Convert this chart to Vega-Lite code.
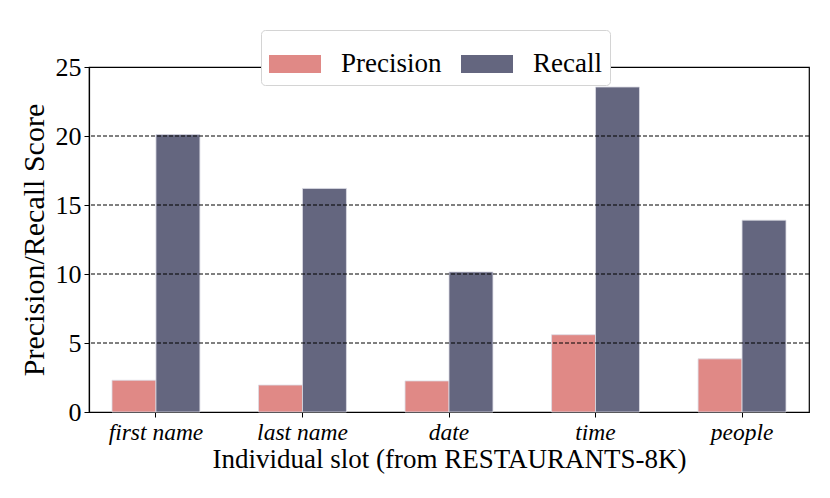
{
  "$schema": "https://vega.github.io/schema/vega-lite/v6.json",
  "description": "Precision / recall per slot, restaurants-8k",
  "width": 720,
  "height": 345,
  "autosize": {"type": "none"},
  "padding": {"left": 89, "top": 67, "right": 22, "bottom": 86},
  "data": {
    "values": [
      {"slot": "first name", "metric": "Precision", "score": 2.3},
      {"slot": "first name", "metric": "Recall", "score": 20.1},
      {"slot": "last name", "metric": "Precision", "score": 1.95},
      {"slot": "last name", "metric": "Recall", "score": 16.2},
      {"slot": "date", "metric": "Precision", "score": 2.25},
      {"slot": "date", "metric": "Recall", "score": 10.15},
      {"slot": "time", "metric": "Precision", "score": 5.6},
      {"slot": "time", "metric": "Recall", "score": 23.55},
      {"slot": "people", "metric": "Precision", "score": 3.85},
      {"slot": "people", "metric": "Recall", "score": 13.9}
    ]
  },
  "layer": [
    {
      "mark": {"type": "bar", "stroke": "#dcdce4", "strokeWidth": 0.8},
      "encoding": {
        "x": {
          "field": "slot",
          "type": "nominal",
          "sort": ["first name", "last name", "date", "time", "people"],
          "scale": {"paddingInner": 0.4, "paddingOuter": 0.157},
          "title": "Individual slot (from RESTAURANTS-8K)",
          "axis": {
            "labelAngle": 0,
            "labelFontStyle": "italic",
            "labelFontSize": 23.5,
            "labelPadding": 3,
            "tickSize": 5,
            "titleFontSize": 27,
            "titleFontWeight": "normal",
            "titlePadding": 3
          }
        },
        "xOffset": {"field": "metric", "type": "nominal", "sort": ["Precision", "Recall"]},
        "y": {
          "field": "score",
          "type": "quantitative",
          "scale": {"domain": [0, 25], "nice": false},
          "title": "Precision/Recall Score",
          "axis": {
            "values": [0, 5, 10, 15, 20, 25],
            "labelFontSize": 26,
            "labelPadding": 3,
            "tickSize": 5,
            "grid": false,
            "titleFontSize": 30,
            "titleFontWeight": "normal",
            "titlePadding": 6
          }
        },
        "color": {
          "field": "metric",
          "type": "nominal",
          "scale": {"domain": ["Precision", "Recall"], "range": ["#e08986", "#64667f"]},
          "title": null,
          "legend": {
            "orient": "none",
            "legendX": 172,
            "legendY": -37,
            "zindex": 2,
            "direction": "horizontal",
            "symbolType": "M-1,-0.35H1V0.35H-1Z",
            "symbolSize": 2704,
            "symbolStrokeWidth": 0,
            "labelFontSize": 27,
            "labelOffset": 20,
            "columnPadding": 19,
            "padding": 8,
            "fillColor": "white",
            "strokeColor": "#d4d4d4",
            "cornerRadius": 4
          }
        }
      }
    },
    {
      "data": {"values": [{"g": 5}, {"g": 10}, {"g": 15}, {"g": 20}]},
      "mark": {"type": "rule", "color": "black", "strokeDash": [4, 2], "strokeWidth": 1},
      "encoding": {"y": {"field": "g", "type": "quantitative"}}
    }
  ],
  "config": {
    "font": "Liberation Serif",
    "view": {"stroke": "black", "strokeWidth": 1.2},
    "axis": {
      "domainColor": "black",
      "domainWidth": 1.2,
      "tickColor": "black",
      "labelColor": "black",
      "titleColor": "black"
    },
    "legend": {"labelColor": "black"}
  }
}
